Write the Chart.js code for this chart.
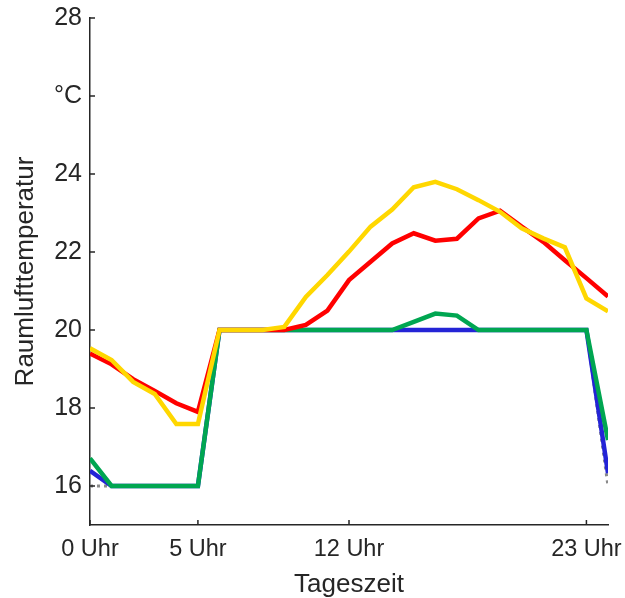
<!DOCTYPE html>
<html>
<head>
<meta charset="utf-8">
<script src="https://cdn.jsdelivr.net/npm/chart.js@4/dist/chart.umd.min.js"></script>
<style>
  html, body { margin: 0; padding: 0; background: #fff; }
  #wrap { width: 625px; height: 598px; }
</style>
</head>
<body>
<div id="wrap"><canvas id="c" width="625" height="598"></canvas></div>
<script>
// Hour of day (0..24)
const hours = [0,1,2,3,4,5,6,7,8,9,10,11,12,13,14,15,16,17,18,19,20,21,22,23,24];

// Room air temperature, °C
const tempYellow = [19.53,19.23,18.67,18.36,17.59,17.59,20.0,20.0,20.0,20.08,20.85,21.41,22.01,22.65,23.09,23.66,23.80,23.61,23.33,23.03,22.61,22.35,22.12,20.81,20.48];
const tempRed    = [19.40,19.12,18.74,18.44,18.12,17.90,20.0,20.0,20.0,20.0,20.13,20.5,21.28,21.75,22.22,22.48,22.29,22.34,22.86,23.06,22.65,22.26,21.79,21.33,20.86];
const tempGreen  = [16.71,16.0,16.0,16.0,16.0,16.0,20.0,20.0,20.0,20.0,20.0,20.0,20.0,20.0,20.0,20.21,20.42,20.37,20.0,20.0,20.0,20.0,20.0,20.0,17.18];
const tempBlue   = [16.39,16.0,16.0,16.0,16.0,16.0,20.0,20.0,20.0,20.0,20.0,20.0,20.0,20.0,20.0,20.0,20.0,20.0,20.0,20.0,20.0,20.0,20.0,20.0,16.33];
const setpoint   = [16.0,16.0,16.0,16.0,16.0,16.0,20.0,20.0,20.0,20.0,20.0,20.0,20.0,20.0,20.0,20.0,20.0,20.0,20.0,20.0,20.0,20.0,20.0,20.0,16.0];

// Axis ticks
const xTicks = [0, 5, 12, 23];
const xTickSuffix = ' Uhr';
const yTicks = [16, 18, 20, 22, 24, 26, 28];
const yUnitTick = 26;
const yUnitLabel = '°C';
const xTitle = 'Tageszeit';
const yTitle = 'Raumlufttemperatur';

const textColor = '#262626';
const axisColor = '#262626';

const pts = arr => hours.map((h, i) => ({ x: h, y: arr[i] }));

const lineDs = (data, color, extra) => Object.assign({
  data: pts(data),
  borderColor: color,
  backgroundColor: color,
  borderWidth: 4.5,
  pointRadius: 0,
  tension: 0,
  fill: false,
  borderJoinStyle: 'miter',
  borderCapStyle: 'butt'
}, extra || {});

// Small inward tick marks on both axes
const innerTicks = {
  id: 'innerTicks',
  afterDatasetsDraw(chart) {
    const { ctx, scales: { x, y }, chartArea } = chart;
    ctx.save();
    ctx.strokeStyle = axisColor;
    ctx.lineWidth = 1.5;
    ctx.beginPath();
    xTicks.forEach(v => {
      const px = x.getPixelForValue(v);
      ctx.moveTo(px, chartArea.bottom);
      ctx.lineTo(px, chartArea.bottom - 5);
    });
    yTicks.forEach(v => {
      const py = y.getPixelForValue(v);
      ctx.moveTo(chartArea.left, py);
      ctx.lineTo(chartArea.left + 5, py);
    });
    ctx.stroke();
    ctx.restore();
  }
};

new Chart(document.getElementById('c'), {
  type: 'line',
  data: {
    datasets: [
      lineDs(tempYellow, '#FFD700'),
      lineDs(tempRed, '#FF0000'),
      lineDs(tempGreen, '#00A651'),
      lineDs(tempBlue, '#2424D6'),
      lineDs(setpoint, '#8A8A8A', { borderWidth: 3, borderDash: [3, 4] })
    ]
  },
  options: {
    responsive: false,
    animation: false,
    events: [],
    layout: { padding: { left: 0, top: 18, right: 17, bottom: 0 } },
    plugins: { legend: { display: false }, tooltip: { enabled: false } },
    scales: {
      x: {
        type: 'linear',
        min: 0,
        max: 24,
        afterBuildTicks: s => { s.ticks = xTicks.map(v => ({ value: v })); },
        afterFit: s => {
          s.height = 73;
          s.paddingLeft = 0;
          s.paddingRight = 0;
        },
        grid: { display: true, drawOnChartArea: false, drawTicks: false },
        border: { display: true, color: axisColor, width: 1.5 },
        ticks: {
          autoSkip: false,
          maxRotation: 0,
          padding: 10,
          color: textColor,
          font: { family: '"Liberation Sans", Arial, sans-serif', size: 23.5 },
          callback: v => v + xTickSuffix
        },
        title: {
          display: true,
          text: xTitle,
          color: textColor,
          padding: 0,
          font: { family: '"Liberation Sans", Arial, sans-serif', size: 26, lineHeight: 1 }
        }
      },
      y: {
        type: 'linear',
        min: 15,
        max: 28,
        afterBuildTicks: s => { s.ticks = yTicks.map(v => ({ value: v })); },
        afterFit: s => {
          s.width = 90;
          s.paddingTop = 0;
          s.paddingBottom = 0;
        },
        grid: { display: true, drawOnChartArea: false, drawTicks: false },
        border: { display: true, color: axisColor, width: 1.5 },
        ticks: {
          autoSkip: false,
          padding: 8,
          color: textColor,
          font: { family: '"Liberation Sans", Arial, sans-serif', size: 25 },
          callback: v => (v === yUnitTick ? yUnitLabel : String(v))
        },
        title: {
          display: true,
          text: yTitle,
          color: textColor,
          padding: { top: 13, bottom: 0 },
          font: { family: '"Liberation Sans", Arial, sans-serif', size: 26, lineHeight: 1 }
        }
      }
    }
  },
  plugins: [innerTicks]
});
</script>
</body>
</html>
